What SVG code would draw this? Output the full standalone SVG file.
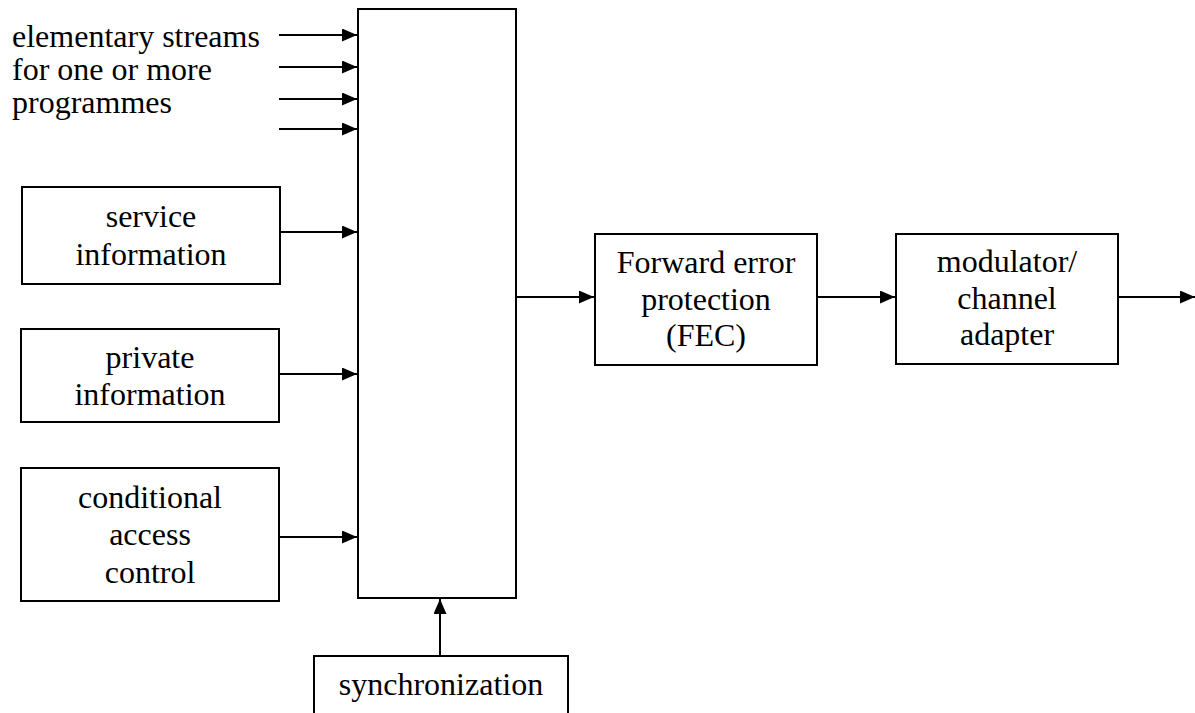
<svg xmlns="http://www.w3.org/2000/svg" width="1195" height="713" viewBox="0 0 1195 713">
<style>
.box{fill:#fff;stroke:#000;stroke-width:2}
.ln{fill:none;stroke:#000;stroke-width:2;marker-end:url(#ah)}
text{font-family:"Liberation Serif","Times New Roman",serif;font-size:32px;fill:#000}
.c{text-anchor:middle}
</style>
<defs>
<marker id="ah" markerUnits="userSpaceOnUse" markerWidth="16" markerHeight="14" refX="15" refY="6.5" orient="auto">
<path d="M0,0 L15,6.5 L0,13 z" fill="#000"/>
</marker>
</defs>
<rect width="1195" height="713" fill="#fff"/>
<g id="mux"><rect class="box" x="358" y="9" width="158" height="589"/></g>
<g id="elementary">
<text x="12" y="47">elementary streams</text>
<text x="12" y="80">for one or more</text>
<text x="12" y="113">programmes</text>
</g>
<g id="service"><rect class="box" x="22" y="187" width="258" height="97"/>
<text class="c" x="151" y="227">service</text><text class="c" x="151" y="265">information</text></g>
<g id="private"><rect class="box" x="21" y="329" width="258" height="93"/>
<text class="c" x="150" y="368">private</text><text class="c" x="150" y="405">information</text></g>
<g id="cac"><rect class="box" x="21" y="468" width="258" height="133"/>
<text class="c" x="150" y="508">conditional</text><text class="c" x="150" y="545">access</text><text class="c" x="150" y="583">control</text></g>
<g id="sync"><path d="M314,713 V656 H568 V713" fill="#fff" stroke="#000" stroke-width="2"/>
<text class="c" x="441" y="695">synchronization</text></g>
<g id="fec"><rect class="box" x="595" y="234" width="222" height="131"/>
<text class="c" x="706" y="273">Forward error</text><text class="c" x="706" y="310">protection</text><text class="c" x="706" y="346">(FEC)</text></g>
<g id="modulator"><rect class="box" x="896" y="234" width="222" height="130"/>
<text class="c" x="1007" y="272">modulator/</text><text class="c" x="1007" y="309">channel</text><text class="c" x="1007" y="345">adapter</text></g>
<g id="connectors">
<path class="ln" d="M279,35 H357"/>
<path class="ln" d="M279,67 H357"/>
<path class="ln" d="M279,99 H357"/>
<path class="ln" d="M279,129 H357"/>
<path class="ln" d="M280,232 H357"/>
<path class="ln" d="M279,374 H357"/>
<path class="ln" d="M279,537 H357"/>
<path class="ln" d="M440,656 V599"/>
<path class="ln" d="M516,297 H594"/>
<path class="ln" d="M817,297 H895"/>
<path class="ln" d="M1118,297 H1195"/>
</g>
</svg>
